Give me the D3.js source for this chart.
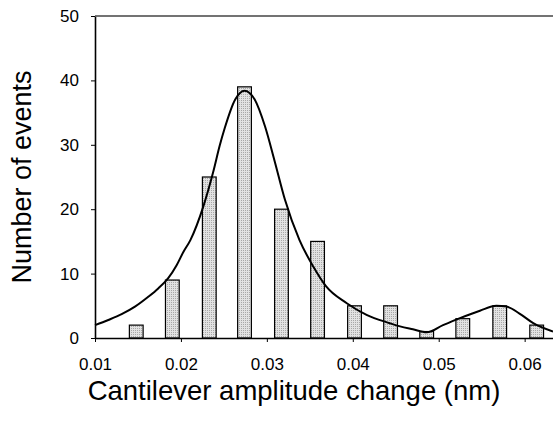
<!DOCTYPE html>
<meta charset="utf-8">
<script src="https://d3js.org/d3.v7.min.js"></script>
<style>
  body { margin: 0; background: #fff; }
  text { font-family: "Liberation Sans", Arial, sans-serif; }
</style>
<div id="my_dataviz"></div>
<script>
    // histogram bins (bin centre, nm) and counts
    var binCentres = [0.0148, 0.0190, 0.0233, 0.0274, 0.0317, 0.0359, 0.0402, 0.0444, 0.0486, 0.0528, 0.0571, 0.0614];
    var counts = [2, 9, 25, 39, 20, 15, 5, 5, 1, 3, 5, 2];

    // fitted curve
    var fitX = [0.0100, 0.01155, 0.0131, 0.01465, 0.0162, 0.01736, 0.01852, 0.0195, 0.0203, 0.0211, 0.0226, 0.0238, 0.0245, 0.0251, 0.0263, 0.0274, 0.0286, 0.0298, 0.0309, 0.0321, 0.0338, 0.0354, 0.0369, 0.0393, 0.0416, 0.0443, 0.0455, 0.0470, 0.0486, 0.0505, 0.0524, 0.0548, 0.0567, 0.0579, 0.0594, 0.0610, 0.0633];
    var fitY = [2.0, 2.8, 3.7, 4.87, 6.4, 7.7, 9.3, 11.3, 13.4, 15.2, 20.4, 26.0, 29.8, 32.6, 37.0, 38.4, 37.0, 32.8, 27.5, 21.5, 15.2, 11.1, 8.0, 5.4, 3.6, 2.3, 1.8, 1.35, 0.9, 2.0, 3.05, 4.24, 5.0, 4.87, 3.8, 2.3, 1.0];

    var xTicks = [0.01, 0.02, 0.03, 0.04, 0.05, 0.06];
    var yTicks = [0, 10, 20, 30, 40, 50];

    var margin = { top: 16, right: 0, bottom: 86, left: 95 },
        width = 553 - margin.left - margin.right,
        height = 424 - margin.top - margin.bottom;

    var root = d3.select("#my_dataviz")
        .append("svg")
        .attr("width", 553)
        .attr("height", 424);

    // dotted grey fill like the printed bars
    var pat = root.append("defs").append("pattern")
        .attr("id", "dots")
        .attr("width", 2).attr("height", 2)
        .attr("patternUnits", "userSpaceOnUse");
    pat.append("rect").attr("width", 2).attr("height", 2).attr("fill", "#e2e2e2");
    pat.append("rect").attr("width", 1).attr("height", 1).attr("fill", "#a8a8a8");

    var svg = root.append("g")
        .attr("transform", "translate(" + margin.left + "," + margin.top + ")");

    var x = d3.scaleLinear()
        .domain([0.01, 0.0633])
        .range([0, width]);

    var y = d3.scaleLinear()
        .domain([0, 50])
        .range([height, 0]);

    var barW = x(0.0116) - x(0.01);

    // bars
    svg.selectAll("mybar")
        .data(counts)
        .enter()
        .append("rect")
        .attr("x", function (d, i) { return x(binCentres[i]) - barW / 2; })
        .attr("y", function (d) { return y(d); })
        .attr("width", barW)
        .attr("height", function (d) { return y(0) - y(d); })
        .style("fill", "url(#dots)")
        .attr("stroke", "black")
        .attr("stroke-width", 1.2);

    // fit curve
    var line = d3.line()
        .x(function (d, i) { return x(fitX[i]); })
        .y(function (d) { return y(d); })
        .curve(d3.curveMonotoneX);
    svg.append("path")
        .datum(fitY)
        .attr("d", line)
        .attr("fill", "none")
        .attr("stroke", "black")
        .attr("stroke-width", 2);

    // axes
    var xAxis = svg.append("g")
        .attr("transform", "translate(0," + height + ")")
        .call(d3.axisBottom(x).tickValues(xTicks).tickSize(4).tickSizeOuter(0)
            .tickFormat(d3.format(".2f")));
    xAxis.selectAll("text")
        .style("font-size", "17px")
        .attr("y", 32)
        .attr("dy", 0)
        .style("fill", "black");

    var yAxis = svg.append("g")
        .call(d3.axisLeft(y).tickValues(yTicks).tickSize(4).tickSizeOuter(0));
    yAxis.selectAll("text")
        .style("font-size", "17px")
        .attr("x", -16)
        .style("fill", "black");

    svg.selectAll(".domain").attr("stroke", "black").attr("stroke-width", 1.6);

    // top frame line
    svg.append("line")
        .attr("x1", 0).attr("x2", width)
        .attr("y1", 0).attr("y2", 0)
        .attr("stroke", "#444")
        .attr("stroke-width", 1.6);

    // axis titles
    svg.append("text")
        .attr("x", 199)
        .attr("y", height + 62)
        .attr("text-anchor", "middle")
        .style("font-size", "27.5px")
        .text("Cantilever amplitude change (nm)");

    svg.append("text")
        .attr("transform", "translate(-64," + (height / 2) + ")rotate(-90)")
        .attr("text-anchor", "middle")
        .style("font-size", "27px")
        .text("Number of events");
</script>
